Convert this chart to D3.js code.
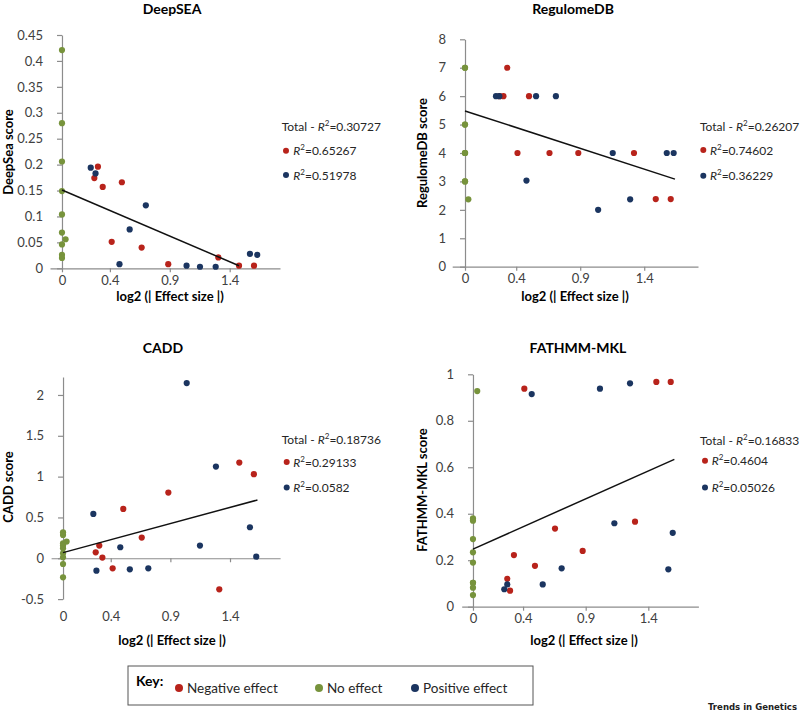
<!DOCTYPE html>
<html>
<head>
<meta charset="utf-8">
<script src="https://cdn.jsdelivr.net/npm/d3@7"></script>
<style>
    body { margin: 0; background: #fff; }
    svg { display: block; font-family: Lato, "Open Sans", sans-serif; }
    .axis path, .axis line { stroke: #8c8c8c; stroke-width: 1.2; }
    .axis text { fill: #404040; font-size: 13px; font-family: Lato, sans-serif; }
    .title { font-size: 14px; font-weight: bold; fill: #000; }
    .axis-title { font-size: 13px; font-weight: bold; fill: #000; }
    .r2 text { font-size: 12px; fill: #262626; }
    .key text { font-size: 13.5px; fill: #262626; }
</style>
</head>
<body>
<script>
// shared x ticks, log2(|effect size|)
var xTicks = [0, 0.4, 0.9, 1.4];

// DeepSEA  [x, score]
var deepseaNegative = [[0.27, 0.174], [0.30, 0.196], [0.34, 0.157], [0.415, 0.051], [0.50, 0.166], [0.665, 0.040], [0.887, 0.008], [1.305, 0.021], [1.478, 0.005], [1.603, 0.005]];
var deepseaNone = [[0, 0.421], [0, 0.28], [0, 0.206], [0, 0.149], [0, 0.104], [0, 0.069], [0.03, 0.056], [0, 0.046], [0, 0.026], [0, 0.02]];
var deepseaPositive = [[0.24, 0.194], [0.28, 0.183], [0.48, 0.008], [0.565, 0.075], [0.70, 0.1215], [1.04, 0.005], [1.152, 0.003], [1.283, 0.003], [1.569, 0.028], [1.63, 0.026]];
var deepseaTrend = [[0, 0.151], [1.478, 0.005]];
var deepseaR2 = ["0.30727", "0.65267", "0.51978"];
var deepseaYTicks = [0, 0.05, 0.1, 0.15, 0.2, 0.25, 0.3, 0.35, 0.4, 0.45];

// RegulomeDB
var regulomeNegative = [[0.27, 6], [0.30, 6], [0.33, 7], [0.41, 4], [0.50, 6], [0.66, 4], [0.885, 4], [1.32, 4], [1.49, 2.38], [1.607, 2.38]];
var regulomeNone = [[0, 7], [0, 7], [0, 5], [0, 5], [0, 4], [0, 4], [0, 3], [0, 3], [0, 4], [0.026, 2.37]];
var regulomePositive = [[0.242, 6], [0.268, 6], [0.48, 3.03], [0.555, 6], [0.71, 6], [1.04, 2.0], [1.154, 4], [1.29, 2.37], [1.576, 4], [1.63, 4]];
var regulomeTrend = [[0, 5.48], [1.64, 3.08]];
var regulomeR2 = ["0.26207", "0.74602", "0.36229"];
var regulomeYTicks = [0, 1, 2, 3, 4, 5, 6, 7, 8];

// CADD
var caddNegative = [[0.274, 0.073], [0.304, 0.155], [0.33, 0.008], [0.416, -0.123], [0.505, 0.604], [0.66, 0.253], [0.883, 0.804], [1.31, -0.38], [1.478, 1.172], [1.60, 1.03]];
var caddNone = [[0, 0.318], [0, 0.286], [0.03, 0.204], [0, 0.184], [0, 0.155], [0, 0.122], [0, 0.061], [0, 0.012], [0, -0.07], [0, -0.233]];
var caddPositive = [[0.254, 0.543], [0.28, -0.152], [0.48, 0.135], [0.56, -0.135], [0.715, -0.123], [1.037, 2.145], [1.148, 0.155], [1.282, 1.123], [1.567, 0.38], [1.62, 0.02]];
var caddTrend = [[0, 0.069], [1.63, 0.714]];
var caddR2 = ["0.18736", "0.29133", "0.0582"];
var caddYTicks = [-0.5, 0, 0.5, 1, 1.5, 2];

// FATHMM-MKL
var fathmmNegative = [[0.274, 0.12], [0.296, 0.069], [0.327, 0.222], [0.41, 0.938], [0.495, 0.176], [0.655, 0.336], [0.876, 0.24], [1.294, 0.366], [1.464, 0.967], [1.579, 0.967]];
var fathmmNone = [[0.034, 0.928], [0, 0.38], [0, 0.37], [0, 0.291], [0, 0.234], [0, 0.19], [0, 0.103], [0, 0.082], [0, 0.05], [0, 0.103]];
var fathmmPositive = [[0.25, 0.075], [0.274, 0.096], [0.469, 0.915], [0.557, 0.096], [0.708, 0.165], [1.014, 0.938], [1.129, 0.359], [1.254, 0.961], [1.56, 0.161], [1.595, 0.318]];
var fathmmTrend = [[0, 0.248], [1.608, 0.634]];
var fathmmR2 = ["0.16833", "0.4604", "0.05026"];
var fathmmYTicks = [0, 0.2, 0.4, 0.6, 0.8, 1];

// key
var keyLabels = ["Negative effect", "No effect", "Positive effect"];

(function() {
    var colors = ["#B8231B", "#77933C", "#1B3560"];

    var svg = d3.select("body").append("svg")
        .attr("width", 800)
        .attr("height", 717);

    // layout of the four panels
    var panels = [
        { title: "DeepSEA", yTitle: "DeepSea score",
          series: [deepseaNegative, deepseaNone, deepseaPositive], trend: deepseaTrend, r2: deepseaR2,
          yTicks: deepseaYTicks, yDomain: [0, 0.45], xDomain: [-0.1, 1.82],
          xRange: [50, 280], yRange: [268.3, 35],
          titlePos: [172, 14], yTitlePos: [13, 152], xTitlePos: [170, 301],
          legend: { x: 281.7, dotX: 286, textX: 293.3, rows: [131, 155.2, 179.5] } },
        { title: "RegulomeDB", yTitle: "RegulomeDB score",
          series: [regulomeNegative, regulomeNone, regulomePositive], trend: regulomeTrend, r2: regulomeR2,
          yTicks: regulomeYTicks, yDomain: [0, 8], xDomain: [-0.1, 1.82],
          xRange: [452.2, 698], yRange: [266.7, 39.3],
          titlePos: [573, 14], yTitlePos: [427, 153], xTitlePos: [575, 301],
          legend: { x: 700, dotX: 703.3, textX: 710, rows: [131, 154.5, 180.2] } },
        { title: "CADD", yTitle: "CADD score",
          series: [caddNegative, caddNone, caddPositive], trend: caddTrend, r2: caddR2,
          yTicks: caddYTicks, yDomain: [-0.5, 2.22], xDomain: [-0.1, 1.82],
          xRange: [51.1, 280.1], yRange: [599.1, 377],
          titlePos: [163, 353], yTitlePos: [13, 487], xTitlePos: [172, 645],
          labelsLow: true,
          legend: { x: 281.7, dotX: 286.7, textX: 293.3, rows: [443.8, 466.5, 491.8] } },
        { title: "FATHMM-MKL", yTitle: "FATHMM-MKL score",
          series: [fathmmNegative, fathmmNone, fathmmPositive], trend: fathmmTrend, r2: fathmmR2,
          yTicks: fathmmYTicks, yDomain: [0, 1], xDomain: [-0.09, 1.8],
          xRange: [461.7, 698.4], yRange: [606.7, 374.3],
          titlePos: [578, 353], yTitlePos: [427, 490], xTitlePos: [584, 645],
          legend: { x: 700, dotX: 705, textX: 711.7, rows: [444.5, 465.2, 491.8] } }
    ];

    panels.forEach(drawPanel);
    drawKey();

    svg.append("text")
        .attr("x", 797)
        .attr("y", 710)
        .attr("text-anchor", "end")
        .style("font-family", "'Liberation Sans Narrow', 'DejaVu Sans Condensed', sans-serif")
        .style("font-weight", "bold")
        .style("font-size", "9.5px")
        .style("fill", "#222")
        .text("Trends in Genetics");

    function drawPanel(p) {
        var x = d3.scaleLinear().domain(p.xDomain).range(p.xRange);
        var y = d3.scaleLinear().domain(p.yDomain).range(p.yRange);
        var g = svg.append("g");

        // x axis crosses at zero
        g.append("g")
            .attr("class", "axis")
            .attr("transform", "translate(0," + y(0) + ")")
            .call(d3.axisBottom(x)
                .tickValues(xTicks)
                .tickSize(4)
                .tickSizeOuter(0)
                .tickPadding(3)
                .tickFormat(p.labelsLow ? "" : function(d) { return d; }));

        if (p.labelsLow) {
            g.append("g")
                .attr("class", "axis")
                .attr("transform", "translate(0," + p.yRange[0] + ")")
                .call(d3.axisBottom(x)
                    .tickValues(xTicks)
                    .tickSize(0)
                    .tickPadding(13)
                    .tickFormat(function(d) { return d; }))
                .call(function(s) { s.select(".domain").remove(); });
        }

        g.append("g")
            .attr("class", "axis")
            .attr("transform", "translate(" + x(0) + ",0)")
            .call(d3.axisLeft(y)
                .tickValues(p.yTicks)
                .tickSize(5)
                .tickSizeOuter(0)
                .tickPadding(14)
                .tickFormat(function(d) { return d; }));

        // points
        p.series.forEach(function(data, i) {
            g.append("g").selectAll("circle")
                .data(data)
                .enter().append("circle")
                .attr("cx", function(d) { return x(d[0]); })
                .attr("cy", function(d) { return y(d[1]); })
                .attr("r", 3.1)
                .attr("fill", colors[i]);
        });

        // total trendline
        g.append("path")
            .datum(p.trend)
            .attr("d", d3.line().x(function(d) { return x(d[0]); }).y(function(d) { return y(d[1]); }))
            .attr("fill", "none")
            .attr("stroke", "#111")
            .attr("stroke-width", 1.5);

        // titles
        g.append("text")
            .attr("class", "title")
            .attr("x", p.titlePos[0])
            .attr("y", p.titlePos[1])
            .attr("text-anchor", "middle")
            .text(p.title);

        g.append("text")
            .attr("class", "axis-title")
            .attr("transform", "translate(" + p.yTitlePos[0] + "," + p.yTitlePos[1] + ") rotate(-90)")
            .attr("text-anchor", "middle")
            .text(p.yTitle);

        g.append("text")
            .attr("class", "axis-title")
            .attr("x", p.xTitlePos[0])
            .attr("y", p.xTitlePos[1])
            .attr("text-anchor", "middle")
            .text("log2 (| Effect size |)");

        // r-squared legend
        var lg = g.append("g").attr("class", "r2");
        var L = p.legend;
        p.r2.forEach(function(val, i) {
            var t;
            if (i === 0) {
                t = lg.append("text").attr("x", L.x).attr("y", L.rows[i]);
                t.append("tspan").text("Total - ");
            } else {
                lg.append("circle")
                    .attr("cx", L.dotX)
                    .attr("cy", L.rows[i] - 4.4)
                    .attr("r", 3)
                    .attr("fill", colors[i === 1 ? 0 : 2]);
                t = lg.append("text").attr("x", L.textX).attr("y", L.rows[i]);
            }
            t.append("tspan").style("font-style", "italic").text("R");
            t.append("tspan").attr("dy", -5).style("font-size", "8px").text("2");
            t.append("tspan").attr("dy", 5).text("=" + val);
        });
    }

    function drawKey() {
        var key = svg.append("g").attr("class", "key");
        key.append("rect")
            .attr("x", 128)
            .attr("y", 666)
            .attr("width", 405)
            .attr("height", 39)
            .attr("fill", "none")
            .attr("stroke", "#555")
            .attr("stroke-width", 1);

        key.append("text")
            .attr("x", 136)
            .attr("y", 686)
            .style("font-weight", "bold")
            .style("font-size", "14px")
            .style("fill", "#000")
            .text("Key:");

        var itemX = [179, 319, 415];
        keyLabels.forEach(function(label, i) {
            key.append("circle")
                .attr("cx", itemX[i])
                .attr("cy", 688)
                .attr("r", 4)
                .attr("fill", colors[i]);
            key.append("text")
                .attr("x", itemX[i] + 8)
                .attr("y", 693)
                .text(label);
        });
    }
})();
</script>
</body>
</html>
